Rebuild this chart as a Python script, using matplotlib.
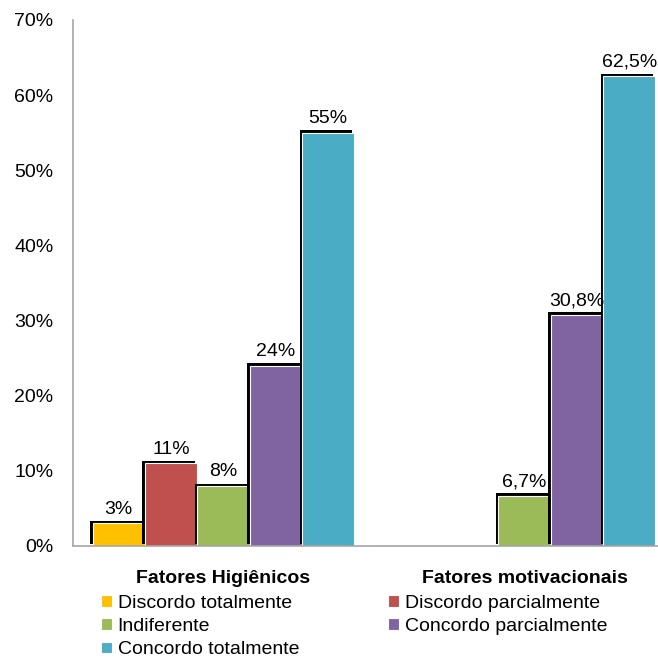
import numpy as np
import matplotlib.pyplot as plt
import matplotlib.patheffects as pe
from matplotlib import rcParams

rcParams['font.family'] = 'sans-serif'
rcParams['font.sans-serif'] = ['Liberation Sans']
rcParams['font.size'] = 14

groups = ['Fatores Higiênicos', 'Fatores motivacionais']
series = ['Discordo totalmente', 'Discordo parcialmente', 'Indiferente',
          'Concordo parcialmente', 'Concordo totalmente']
colors = ['#FFC000', '#C0504D', '#9BBB59', '#8064A2', '#4BACC6']
values = [[3, 0], [11, 0], [8, 6.7], [24, 30.8], [55, 62.5]]
labels = [['3%', ''], ['11%', ''], ['8%', '6,7%'], ['24%', '30,8%'], ['55%', '62,5%']]
yticks = [0, 10, 20, 30, 40, 50, 60, 70]

W = 658
fig = plt.figure(figsize=(6.58, 6.58), dpi=100)
ax = fig.add_axes([73 / W, 112 / W, 602 / W, 526 / W])

x = np.arange(len(groups))
bw = 0.174
shadow = [pe.SimplePatchShadow(offset=(-1.8, 1.7), shadow_rgbFace='black', alpha=1.0),
          pe.Normal()]
handles = []
for i, (name, col) in enumerate(zip(series, colors)):
    pos = x + (i - 2) * bw
    vals = np.array(values[i])
    bars = ax.bar(pos, vals, bw, color=col, edgecolor='white', linewidth=0.8,
                  label=name, zorder=2)
    for b, v in zip(bars, vals):
        if v > 0:
            b.set_path_effects(shadow)
    handles.append(bars)
    for p, v, t in zip(pos, vals, labels[i]):
        if t:
            ax.annotate(t, (p, v), xytext=(0, 4), textcoords='offset points',
                        ha='center', va='bottom', fontsize=14)

ax.set_xlim(-0.5, 1.5)
ax.set_ylim(0, 70)
ax.set_yticks(yticks)
ax.set_yticklabels([f'{t}%' for t in yticks], fontsize=14)
ax.set_xticks(x)
ax.set_xticklabels(groups, fontsize=14, fontweight='bold')
ax.tick_params(axis='both', length=0)
ax.tick_params(axis='y', pad=14)
ax.tick_params(axis='x', pad=17)
for s in ['top', 'right']:
    ax.spines[s].set_visible(False)
for s in ['left', 'bottom']:
    ax.spines[s].set_color('#A6A6A6')
    ax.spines[s].set_linewidth(1.2)

order = [0, 2, 4, 1, 3]
leg = fig.legend([handles[i] for i in order], [series[i] for i in order],
                 ncol=2, loc='upper left', bbox_to_anchor=(101 / W, 1 - 595 / W),
                 frameon=False, fontsize=14, handlelength=0.55, handleheight=0.55,
                 handletextpad=0.3, labelspacing=0.32, columnspacing=4.6,
                 borderaxespad=0, borderpad=0)
for h in leg.legend_handles:
    h.set_path_effects([])
    h.set_edgecolor('white')

fig.savefig('out.png', dpi=100)
